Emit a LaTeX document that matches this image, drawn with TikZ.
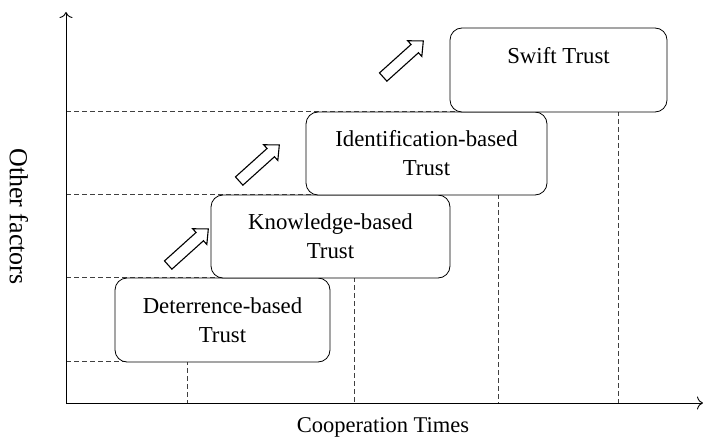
\documentclass[tikz,border=0pt]{standalone}
\usepackage{fontspec}
\setmainfont{Liberation Serif}
\usetikzlibrary{shapes.arrows,arrows.meta}
\begin{document}
\begin{tikzpicture}[x=1pt,y=-1pt,
  trustbox/.style={draw,rounded corners=12pt,fill=white,line width=0.8pt,align=center,inner sep=0pt,
    font=\fontsize{22.8}{29}\selectfont},
  guide/.style={draw=black!75,dash pattern=on 5pt off 3pt,line width=0.8pt},
  axis/.style={line width=0.9pt,-{To[length=6pt,width=13pt]}},
  uparrow/.style={single arrow,draw,fill=white,line width=1.1pt,minimum height=54pt,
    single arrow head extend=5pt,single arrow tip angle=85,inner xsep=0pt,inner ysep=5pt,rotate=42},
  lab/.style={font=\fontsize{22.5}{28}\selectfont}]
\useasboundingbox (0,0) rectangle (703,443);
% axes
\coordinate (o) at (66,403);
\coordinate (ytop) at (66,12);
\coordinate (xend) at (703,403);
% guide lines
\draw[guide] (66,361) -- (187,361) -- (187,403);
\draw[guide] (66,277) -- (354,277) -- (354,403);
\draw[guide] (66,194) -- (498,194) -- (498,403);
\draw[guide] (66,111) -- (618,111) -- (618,403);
\draw[axis] (o) -- (ytop);
\draw[axis] (o) -- (xend);
% boxes
\node[trustbox,minimum width=215pt,minimum height=84pt] (det) at (222.5,320) {Deterrence-based\\Trust};
\node[trustbox,minimum width=239pt,minimum height=83pt] (know) at (330.5,236.5) {Knowledge-based\\Trust};
\node[trustbox,minimum width=241pt,minimum height=83pt] (ident) at (426.5,153.5) {Identification-based\\Trust};
\node[trustbox,minimum width=217pt,minimum height=84pt] (swift) at (558.5,70) {Swift Trust\\\phantom{Trust}};
% block arrows
\node[uparrow] (a1) at (186,249) {};
\node[uparrow] (a2) at (257,165) {};
\node[uparrow] (a3) at (401,61) {};
% axis labels
\node[lab] (xl) at (383,427) {Cooperation Times};
\node[font=\fontsize{26}{30}\selectfont,rotate=-90] (yl) at (19,216.5) {Other factors};
\end{tikzpicture}
\end{document}
